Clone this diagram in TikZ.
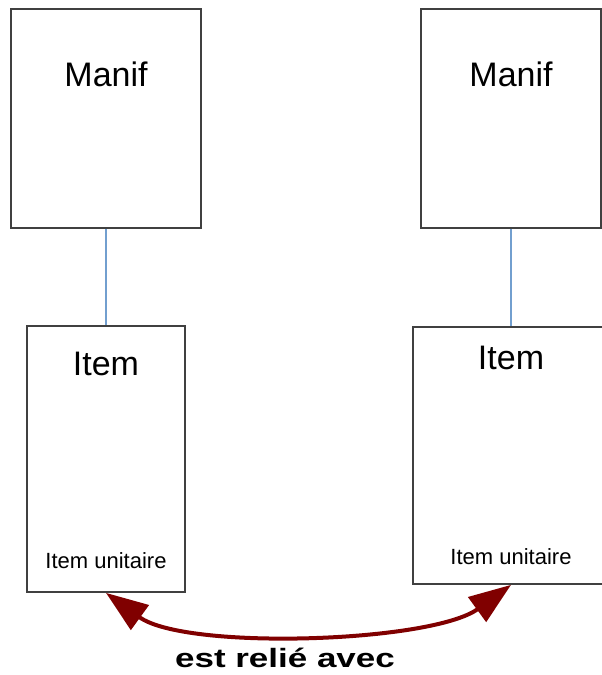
\documentclass[tikz,border=0pt]{standalone}
\usepackage{fontspec}
\setmainfont{Liberation Sans}
\newfontfamily\widefont[FakeStretch=1.32]{Liberation Sans}
\usetikzlibrary{%
    arrows.meta,
    positioning
}
\definecolor{linkblue}{HTML}{729FCF}
\definecolor{relred}{HTML}{800000}
\tikzset{
    entity/.style = {draw=black!75, line width=1.8pt, inner sep=0pt},
    bigtitle/.style = {inner sep=0pt, font=\fontsize{34}{40}\selectfont},
    smalltitle/.style = {inner sep=0pt, font=\fontsize{22}{26}\selectfont},
    link/.style = {draw=linkblue, line width=1.5pt},
    relarrow/.style = {draw=relred, line width=4pt,
        {Triangle[length=42pt,width=30pt]}-{Triangle[length=42pt,width=30pt]}}
}

\begin{document}
\begin{tikzpicture}[x=1pt,y=1pt]
    \useasboundingbox (0,0) rectangle (602,675);
    \clip (0,0) rectangle (602,675);

    % manifestations
    \node[entity, minimum width=190pt, minimum height=219pt] (manifL) at (106,556.5) {};
    \node[entity, minimum width=180pt, minimum height=219pt] (manifR) at (511,556.5) {};

    % items
    \node[entity, minimum width=158pt, minimum height=266pt] (itemL) at (106,216) {};
    \node[entity, minimum width=196pt, minimum height=257pt] (itemR) at (511,219.5) {};

    % titles
    \foreach \Side in {L,R}
        \node[bigtitle] (manifTitle\Side) [below=54pt of manif\Side.north] {Manif};
    \node[bigtitle] (itemTitleL) [below=27pt of itemL.north] {Item};
    \node[bigtitle] (itemTitleR) [below=20pt of itemR.north] {Item};
    \node[smalltitle] (unitL) [above=24pt of itemL.south] {Item unitaire};
    \node[smalltitle] (unitR) [above=20pt of itemR.south] {Item unitaire};

    % edges
    \foreach \Side in {L,R}
        \draw[link] (manif\Side) -- (item\Side);

    % relation between the items
    \draw[relarrow] (itemL.south) to[out=-36, in=-144, looseness=0.62] (itemR.south);
    \node[font=\widefont\bfseries\fontsize{26.5}{30}\selectfont, anchor=base] (relLabel) at (285,7) {est relié avec};
\end{tikzpicture}
\end{document}
